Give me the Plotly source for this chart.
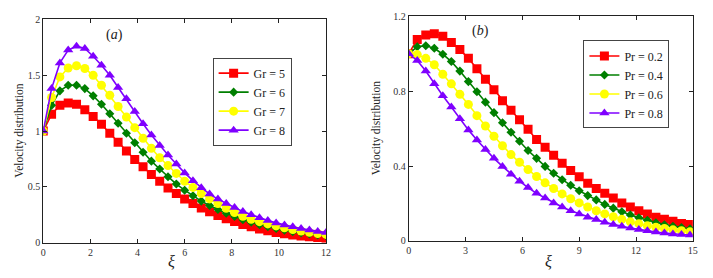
import numpy as np
import plotly.graph_objects as go

# ---------------- data ----------------
xa = np.linspace(0, 12, 35)
gr_labels = ["Gr = 5", "Gr = 6", "Gr = 7", "Gr = 8"]
gr5 = [1.0, 1.15, 1.23, 1.25, 1.24, 1.19, 1.13, 1.06, 0.98, 0.90, 0.82, 0.745, 0.68, 0.61, 0.55,
       0.49, 0.44, 0.39, 0.35, 0.31, 0.277, 0.243, 0.214, 0.189, 0.163, 0.143, 0.123, 0.106,
       0.091, 0.08, 0.069, 0.06, 0.052, 0.046, 0.04]
gr6 = [1.0, 1.23, 1.36, 1.41, 1.41, 1.38, 1.315, 1.24, 1.155, 1.07, 0.98, 0.895, 0.81, 0.73, 0.66,
       0.59, 0.525, 0.47, 0.42, 0.372, 0.333, 0.297, 0.263, 0.234, 0.206, 0.183, 0.16, 0.143,
       0.126, 0.112, 0.098, 0.087, 0.077, 0.069, 0.062]
gr7 = [1.0, 1.3, 1.485, 1.565, 1.585, 1.56, 1.5, 1.41, 1.32, 1.22, 1.125, 1.03, 0.935, 0.845, 0.76,
       0.69, 0.62, 0.55, 0.495, 0.44, 0.392, 0.35, 0.307, 0.27, 0.236, 0.21, 0.188, 0.168,
       0.15, 0.133, 0.118, 0.104, 0.092, 0.082, 0.074]
gr8 = [1.0, 1.38, 1.61, 1.725, 1.76, 1.74, 1.67, 1.59, 1.5, 1.39, 1.29, 1.175, 1.065, 0.965, 0.87,
       0.785, 0.705, 0.625, 0.555, 0.492, 0.435, 0.39, 0.35, 0.314, 0.278, 0.25, 0.224, 0.198,
       0.177, 0.158, 0.142, 0.127, 0.113, 0.1, 0.09]

xb = np.arange(34) * 0.45
pr_labels = ["Pr = 0.2", "Pr = 0.4", "Pr = 0.6", "Pr = 0.8"]
pr2 = [1.0, 1.076, 1.1, 1.107, 1.093, 1.06, 1.022, 0.975, 0.919, 0.864, 0.807, 0.749, 0.698,
       0.647, 0.597, 0.542, 0.5, 0.458, 0.415, 0.376, 0.342, 0.308, 0.28, 0.254, 0.229, 0.203,
       0.181, 0.161, 0.144, 0.127, 0.115, 0.105, 0.093, 0.088]
pr4 = [1.0, 1.037, 1.042, 1.029, 0.997, 0.958, 0.907, 0.851, 0.797, 0.741, 0.685, 0.631, 0.58,
       0.532, 0.483, 0.441, 0.398, 0.361, 0.327, 0.297, 0.268, 0.242, 0.219, 0.195, 0.175, 0.156,
       0.139, 0.124, 0.11, 0.097, 0.086, 0.078, 0.071, 0.064]
pr6 = [1.0, 0.995, 0.975, 0.941, 0.89, 0.839, 0.783, 0.729, 0.669, 0.614, 0.559, 0.508, 0.461,
       0.42, 0.381, 0.344, 0.31, 0.28, 0.251, 0.225, 0.203, 0.181, 0.161, 0.144, 0.129, 0.115,
       0.102, 0.092, 0.081, 0.073, 0.066, 0.059, 0.054, 0.049]
pr8 = [1.0, 0.963, 0.907, 0.839, 0.775, 0.715, 0.653, 0.593, 0.539, 0.488, 0.441, 0.398, 0.356,
       0.319, 0.285, 0.254, 0.229, 0.203, 0.181, 0.161, 0.144, 0.127, 0.114, 0.1, 0.088, 0.078,
       0.069, 0.061, 0.054, 0.047, 0.042, 0.037, 0.034, 0.031]

xa_ticks = [0, 2, 4, 6, 8, 10, 12]
ya_ticks = [0, 0.5, 1, 1.5, 2]
ya_ticktext = ["0", "0.5", "1", "1.5", "2"]
xb_ticks = [0, 3, 6, 9, 12, 15]
yb_ticks = [0, 0.4, 0.8, 1.2]
yb_ticktext = ["0", "0.4", "0.8", "1.2"]

# ---------------- style ----------------
colors = ["#ff0000", "#007f00", "#ffff00", "#7f00ff"]
symbols = ["square", "diamond", "circle", "triangle-up"]
sizes = [9, 7, 9, 9]
SERIF = "Liberation Serif"

fig = go.Figure()
for ys, lab, c, s, sz in zip([gr5, gr6, gr7, gr8], gr_labels, colors, symbols, sizes):
    fig.add_trace(go.Scatter(x=xa, y=ys, name=lab, mode="lines+markers",
                             line=dict(color=c, width=1.6),
                             marker=dict(symbol=s, size=sz, color=c),
                             xaxis="x", yaxis="y", legend="legend"))
for ys, lab, c, s, sz in zip([pr2, pr4, pr6, pr8], pr_labels, colors, symbols, sizes):
    fig.add_trace(go.Scatter(x=xb, y=ys, name=lab, mode="lines+markers",
                             line=dict(color=c, width=1.6),
                             marker=dict(symbol=s, size=sz, color=c),
                             xaxis="x2", yaxis="y2", legend="legend2"))

axis_common = dict(showgrid=False, zeroline=False, showline=True, linecolor="#222",
                   linewidth=1, mirror="ticks", ticks="inside", ticklen=4, tickcolor="#222",
                   tickfont=dict(family=SERIF, size=10, color="#333"))

yA = [0.1104, 0.9496]
yB = [0.1169, 0.9615]
fig.update_layout(
    width=713, height=278, margin=dict(l=0, r=0, t=0, b=0),
    paper_bgcolor="white", plot_bgcolor="white",
    font=dict(family=SERIF, color="#222"),
    xaxis=dict(domain=[0.0571, 0.4582], range=[0, 12], tickvals=xa_ticks,
               anchor="y", **axis_common),
    yaxis=dict(domain=yA, range=[0, 2], tickvals=ya_ticks, ticktext=ya_ticktext,
               anchor="x", **axis_common),
    xaxis2=dict(domain=[0.5755, 0.9785], range=[0, 15], tickvals=xb_ticks,
                anchor="y2", **axis_common),
    yaxis2=dict(domain=yB, range=[0, 1.2], tickvals=yb_ticks, ticktext=yb_ticktext,
                anchor="x2", **axis_common),
    legend=dict(x=212 / 713, y=1 - 54 / 278, xanchor="left", yanchor="top",
                bgcolor="white", bordercolor="#444", borderwidth=1,
                font=dict(family=SERIF, size=12, color="#222"),
                tracegroupgap=0, itemwidth=30),
    legend2=dict(x=587 / 713, y=1 - 36 / 278, xanchor="left", yanchor="top",
                 bgcolor="white", bordercolor="#444", borderwidth=1,
                 font=dict(family=SERIF, size=12, color="#222"),
                 tracegroupgap=0, itemwidth=30),
    showlegend=True,
    annotations=[
        dict(text="(<i>a</i>)", x=3.03, y=1.86, xref="x", yref="y", showarrow=False,
             font=dict(family=SERIF, size=14, color="#222")),
        dict(text="(<i>b</i>)", x=3.81, y=1.12, xref="x2", yref="y2", showarrow=False,
             font=dict(family=SERIF, size=14, color="#222")),
        dict(text="<i>ξ</i>", x=5.43, y=1 - 267 / 278, xref="x", yref="paper",
             yanchor="middle", showarrow=False,
             font=dict(family=SERIF, size=16, color="#222")),
        dict(text="<i>ξ</i>", x=7.38, y=1 - 267 / 278, xref="x2", yref="paper",
             yanchor="middle", showarrow=False,
             font=dict(family=SERIF, size=16, color="#222")),
        dict(text="Velocity distribution", textangle=-90, x=16 / 713, y=(yA[0] + yA[1]) / 2,
             xref="paper", yref="paper", xanchor="center", yanchor="middle", showarrow=False,
             font=dict(family=SERIF, size=11.5, color="#222")),
        dict(text="Velocity distribution", textangle=-90, x=378 / 713, y=(yB[0] + yB[1]) / 2,
             xref="paper", yref="paper", xanchor="center", yanchor="middle", showarrow=False,
             font=dict(family=SERIF, size=11.5, color="#222")),
    ],
)

fig.write_html("out.html", config={"displayModeBar": False},
               post_script="document.body.style.margin='0';document.body.style.overflow='hidden';")
